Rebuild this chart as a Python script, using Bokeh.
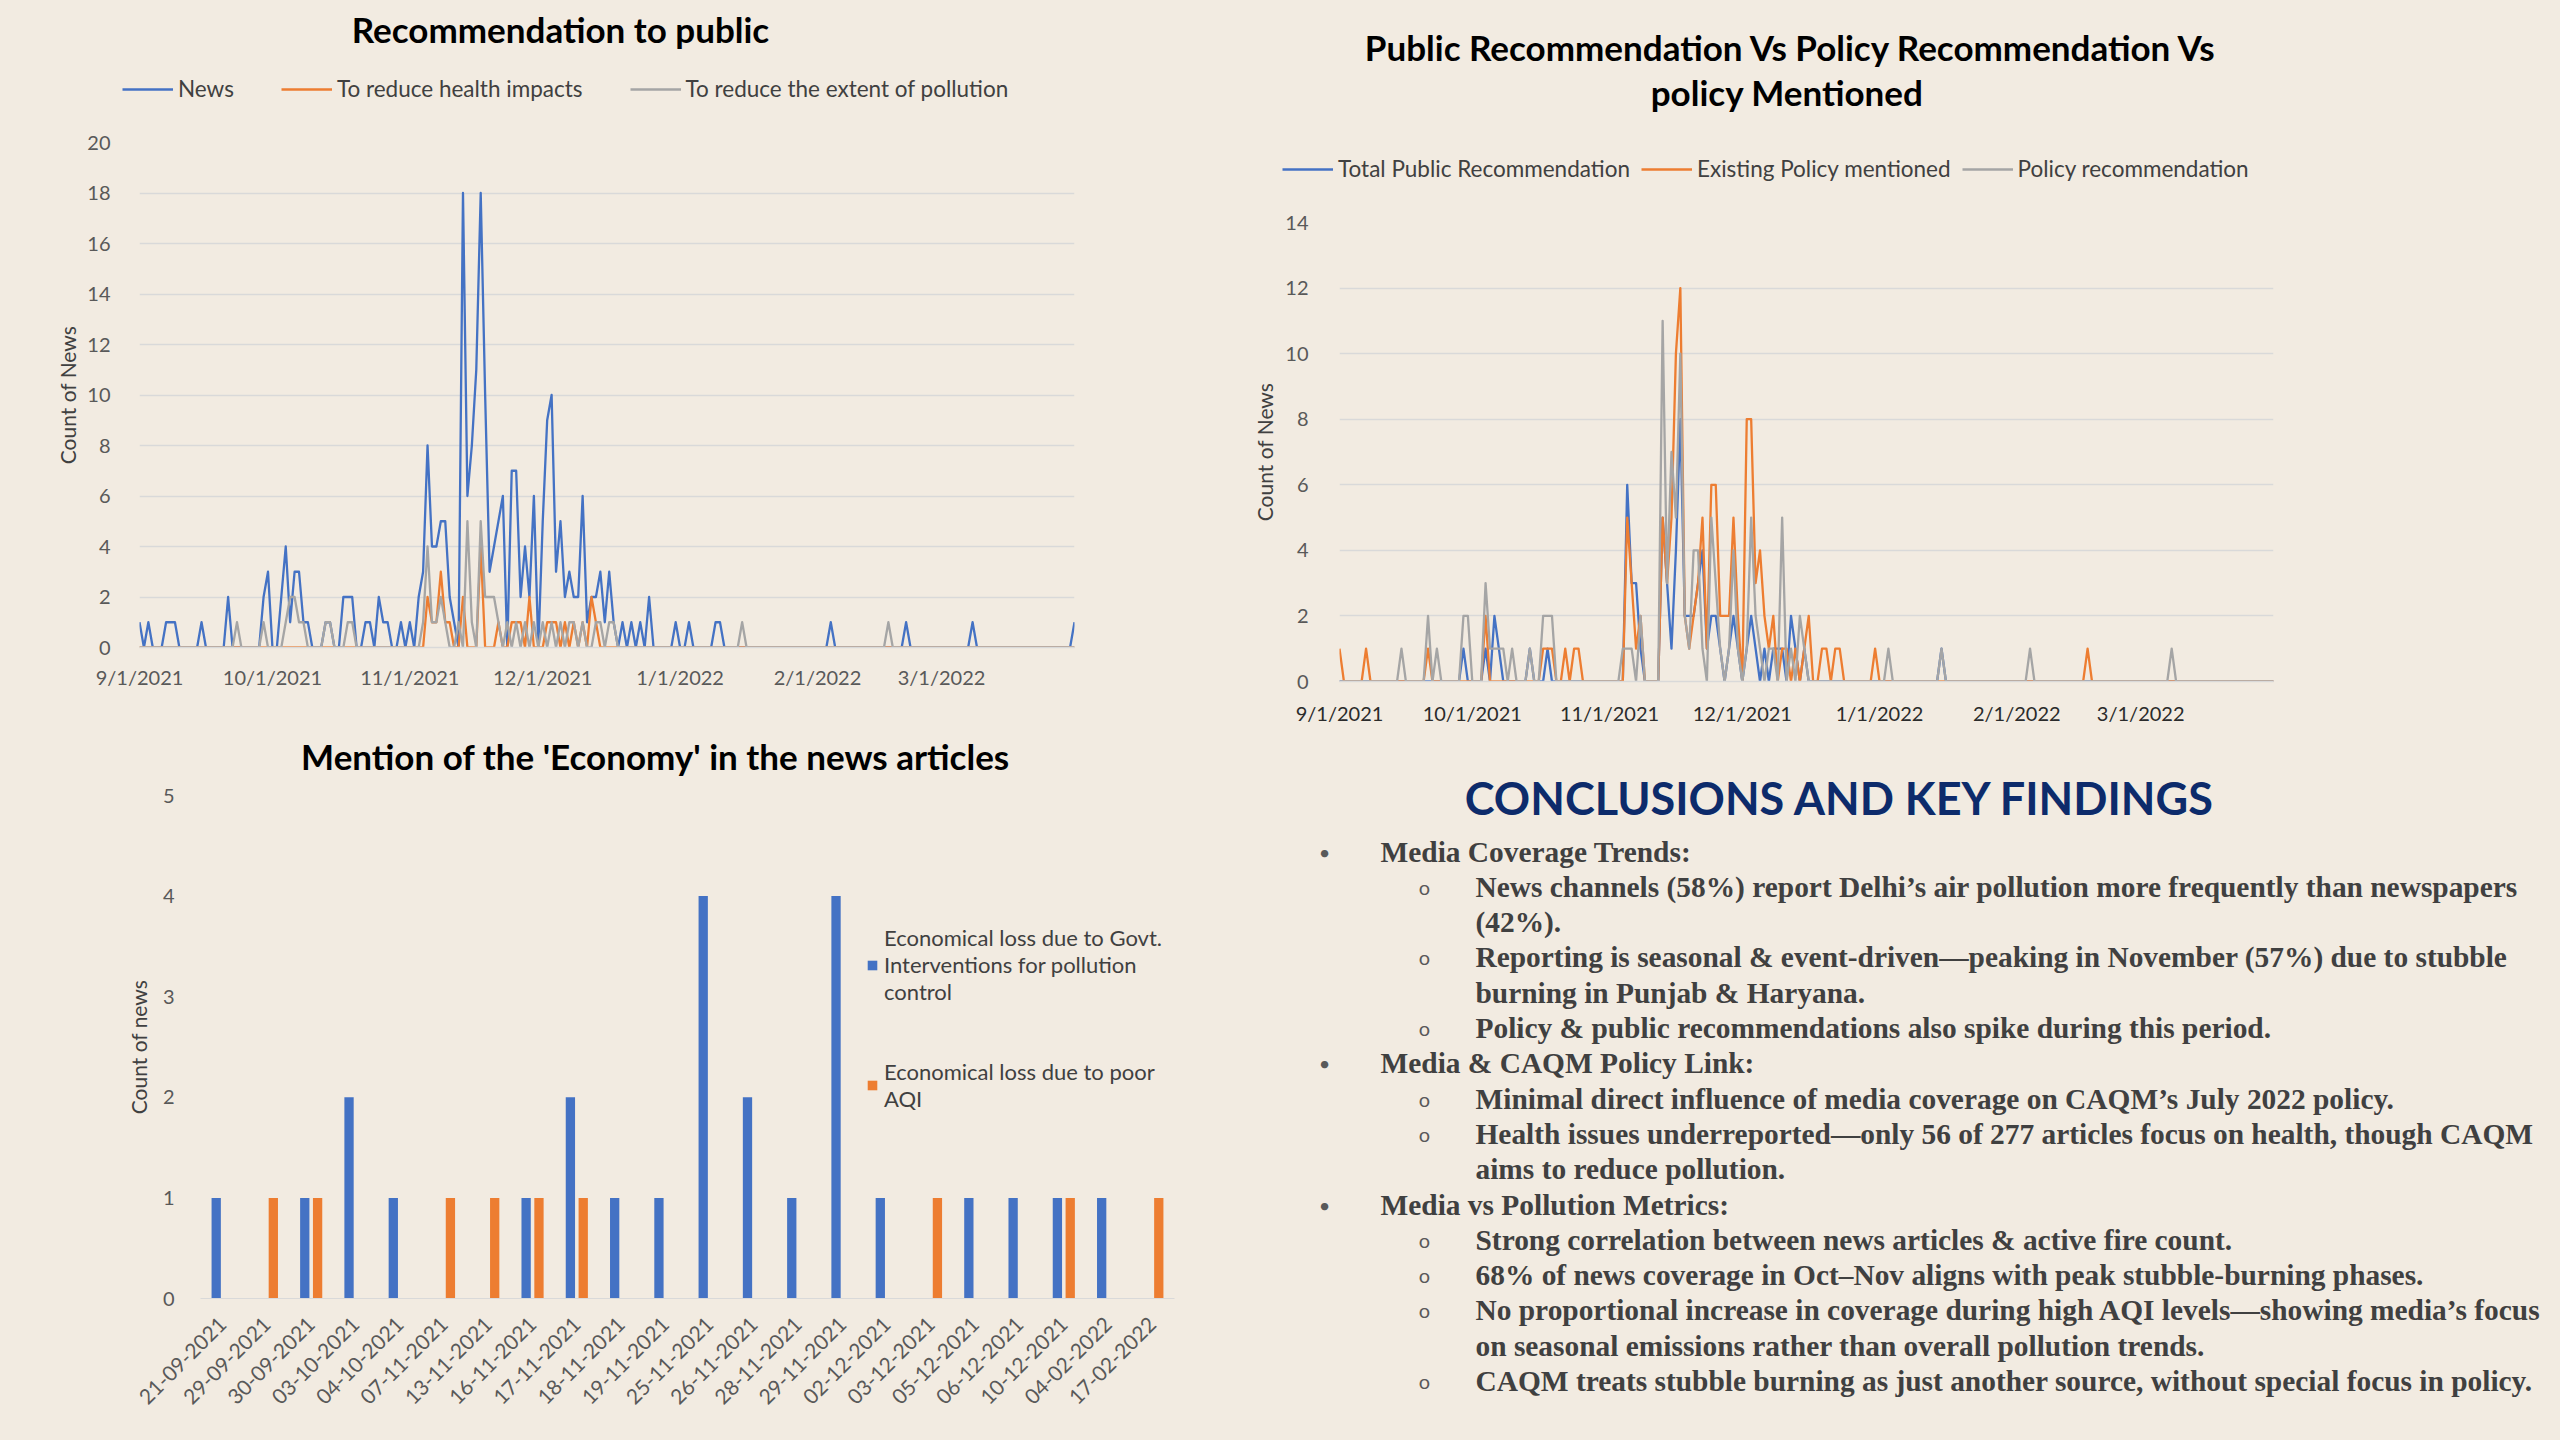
import pandas as pd
from math import pi
from bokeh.plotting import figure
from bokeh.layouts import row, column
from bokeh.models import Range1d, FactorRange, FixedTicker, Label, ColumnDataSource
from bokeh.transform import dodge
from bokeh.core.properties import value
from bokeh.embed import file_html
from bokeh.resources import INLINE

# ---------------- style ----------------
BG = "#F2EBE1"
BLUE, ORANGE, GRAY = "#4472C4", "#ED7D31", "#A5A5A5"
GRID, TICK, DARK = "#D9D9D9", "#595959", "#404040"
SANS, SERIF = "Lato", "Liberation Serif"
NAN = float("nan")

# ---------------- data ----------------
start_date, end_date = "2021-09-01", "2022-03-31"
date_tick_labels = ["9/1/2021", "10/1/2021", "11/1/2021", "12/1/2021",
                    "1/1/2022", "2/1/2022", "3/1/2022"]

# Chart 1: Recommendation to public (daily counts, Sep 2021 - Mar 2022)
tl_title = "Recommendation to public"
tl_labels = ["News", "To reduce health impacts", "To reduce the extent of pollution"]
news = ([1,0,1,0,0,0,1,1,1,0, 0,0,0,0,1,0,0,0,0,0, 2,0,0,0,0,0,0,0,2,3] +          # Sep
        [0,0,2,4,1,3,3,1,1,0, 0,0,1,1,0,0,2,2,2,0, 0,1,1,0,2,1,1,0,0,1, 0] +       # Oct
        [1,0,2,3,8,4,4,5,5,2, 1,0,18,6,8,11,18,10,3,4, 5,6,0,7,7,2,4,2,6,0] +      # Nov
        [5,9,10,3,5,2,3,2,2,6, 1,2,2,3,1,3,1,0,1,0, 1,0,1,0,2,0,0,0,0,0, 1] +      # Dec
        [0,0,1,0,0,0,0,0,1,1, 0,0,0,0,0,0,0,0,0,0, 0,0,0,0,0,0,0,0,0,0, 0] +       # Jan
        [0,0,0,1,0,0,0,0,0,0, 0,0,0,0,0,0,0,0,0,0, 1,0,0,0,0,0,0,0] +              # Feb
        [0,0,0,0,0,0,0,1,0,0, 0,0,0,0,0,0,0,0,0,0, 0,0,0,0,0,0,0,0,0,0, 1])        # Mar
health = ([0,0,0,0,0,0,0,0,0,0, 0,0,0,0,0,0,0,0,0,0, 0,0,0,0,0,0,0,0,0,0] +
          [0,0,0,0,0,0,0,0,0,0, 0,0,0,0,0,0,0,0,0,0, 0,0,0,0,0,0,0,0,0,0, 0] +
          [0,0,0,0,2,1,1,3,1,1, 0,0,2,0,0,0,4,0,0,0, 1,0,0,1,1,1,0,2,0,0] +
          [0,1,1,1,0,1,0,1,0,1, 0,2,1,0,0,0,0,0,0,0, 0,0,0,0,0,0,0,0,0,0, 0] +
          [0,0,0,0,0,0,0,0,0,0, 0,0,0,0,0,0,0,0,0,0, 0,0,0,0,0,0,0,0,0,0, 0] +
          [0,0,0,0,0,0,0,0,0,0, 0,0,0,0,0,0,0,0,0,0, 0,0,0,0,0,0,0,0] +
          [0,0,0,0,0,0,0,0,0,0, 0,0,0,0,0,0,0,0,0,0, 0,0,0,0,0,0,0,0,0,0, 0])
extent = ([0,0,0,0,0,0,0,0,0,0, 0,0,0,0,0,0,0,0,0,0, 0,0,1,0,0,0,0,0,1,0] +
          [0,0,0,1,2,2,1,1,0,0, 0,0,1,1,0,0,0,1,1,0, 0,0,0,0,0,0,0,0,0,0, 0] +
          [0,0,0,1,4,1,1,2,1,0, 0,1,0,5,1,0,5,2,2,2, 1,0,1,0,1,0,1,0,1,0] +
          [1,0,1,0,1,0,1,1,0,1, 0,0,1,1,0,1,1,0,0,0, 0,0,0,0,0,0,0,0,0,0, 0] +
          [0,0,0,0,0,0,0,0,0,0, 0,0,0,0,1,0,0,0,0,0, 0,0,0,0,0,0,0,0,0,0, 0] +
          [0,0,0,0,0,0,0,0,0,0, 0,0,0,0,0,0,1,0,0,0, 0,0,0,0,0,0,0,0] +
          [0,0,0,0,0,0,0,0,0,0, 0,0,0,0,0,0,0,0,0,0, 0,0,0,0,0,0,0,0,0,0, 0])

# Chart 2: Public vs policy recommendation vs policy mentioned
tr_title = ["Public Recommendation Vs Policy Recommendation Vs", "policy  Mentioned"]
tr_labels = ["Total Public Recommendation", "Existing Policy mentioned", "Policy recommendation"]
public_total = ([0,0,0,0,0,0,0,0,0,0, 0,0,0,0,0,0,0,0,0,0, 0,0,0,0,0,0,0,0,1,0] +
                [0,0,0,1,0,2,1,0,0,0, 0,0,0,1,0,0,0,1,0,0, 0,0,0,0,0,0,0,0,0,0, 0] +
                [0,0,0,0,6,3,3,1,0,0, 0,0,5,3,1,4,8,2,2,2, 3,4,1,2,2,1,0,1,2,1] +
                [0,1,2,1,0,1,0,1,1,1, 0,2,1,0,1,0,0,0,0,0, 0,0,0,0,0,0,0,0,0,0, 0] +
                [0,0,0,0,0,0,0,0,0,0, 0,0,0,0,1,0,0,0,0,0, 0,0,0,0,0,0,0,0,0,0, 0] +
                [0,0,0,0,0,0,0,0,0,0, 0,0,0,0,0,0,0,0,0,0, 0,0,0,0,0,0,0,0] +
                [0,0,0,0,0,0,0,0,0,0, 0,0,0,0,0,0,0,0,0,0, 0,0,0,0,0,0,0,0,0,0, 0])
policy_existing = ([1,0,0,0,0,0,1,0,0,0, 0,0,0,0,0,0,0,0,0,0, 1,0,0,0,0,0,0,0,0,0] +
                   [0,0,0,2,0,0,0,0,0,0, 0,0,0,0,0,0,1,1,1,0, 0,1,0,1,1,0,0,0,0,0, 0] +
                   [0,0,0,0,5,3,1,2,0,0, 0,0,5,3,5,10,12,2,1,2, 3,5,1,6,6,2,2,2,5,2] +
                   [0,8,8,3,4,2,1,2,0,1, 1,0,1,0,1,2,0,0,1,1, 0,1,1,0,0,0,0,0,0,0, 1] +
                   [0,0,0,0,0,0,0,0,0,0, 0,0,0,0,0,0,0,0,0,0, 0,0,0,0,0,0,0,0,0,0, 0] +
                   [0,0,0,0,0,0,0,0,0,0, 0,0,0,0,0,0,1,0,0,0, 0,0,0,0,0,0,0,0] +
                   [0,0,0,0,0,0,0,0,0,0, 0,0,0,0,0,0,0,0,0,0, 0,0,0,0,0,0,0,0,0,0, 0])
policy_reco = ([0,0,0,0,0,0,0,0,0,0, 0,0,0,0,1,0,0,0,0,0, 2,0,1,0,0,0,0,0,2,2] +
               [0,0,0,3,1,1,1,1,0,1, 0,0,0,1,0,0,2,2,2,0, 0,0,0,0,0,0,0,0,0,0, 0] +
               [0,0,0,1,1,1,0,2,0,0, 0,0,11,3,7,5,10,2,1,4, 4,1,0,5,3,1,0,1,4,1] +
               [0,1,5,2,1,0,1,1,0,5, 0,1,0,2,1,0,0,0,0,0, 0,0,0,0,0,0,0,0,0,0, 0] +
               [0,0,1,0,0,0,0,0,0,0, 0,0,0,0,1,0,0,0,0,0, 0,0,0,0,0,0,0,0,0,0, 0] +
               [0,0,0,1,0,0,0,0,0,0, 0,0,0,0,0,0,0,0,0,0, 0,0,0,0,0,0,0,0] +
               [0,0,0,0,0,0,0,1,0,0, 0,0,0,0,0,0,0,0,0,0, 0,0,0,0,0,0,0,0,0,0, 0])

# Chart 3: Mention of the 'Economy'
bl_title = "Mention of the 'Economy' in the news articles"
econ_dates = ["21-09-2021", "29-09-2021", "30-09-2021", "03-10-2021", "04-10-2021",
              "07-11-2021", "13-11-2021", "16-11-2021", "17-11-2021", "18-11-2021",
              "19-11-2021", "25-11-2021", "26-11-2021", "28-11-2021", "29-11-2021",
              "02-12-2021", "03-12-2021", "05-12-2021", "06-12-2021", "10-12-2021",
              "04-02-2022", "17-02-2022"]
econ_govt = [1, 0, 1, 2, 1, 0, 0, 1, 2, 1, 1, 4, 2, 1, 4, 1, 0, 1, 1, 1, 1, 0]
econ_aqi = [0, 1, 1, 0, 0, 1, 1, 1, 1, 0, 0, 0, 0, 0, 0, 0, 1, 0, 0, 1, 0, 1]
econ_labels = ["Economical loss due to Govt.\nInterventions for pollution\ncontrol",
               "Economical loss due to poor\nAQI"]

# Text panel
heading = "CONCLUSIONS AND KEY FINDINGS"
findings = [
    (1, "Media Coverage Trends:"),
    (2, "News channels (58%) report Delhi\u2019s air pollution more frequently than newspapers"),
    (3, "(42%)."),
    (2, "Reporting is seasonal & event-driven\u2014peaking in November (57%) due to stubble"),
    (3, "burning in Punjab & Haryana."),
    (2, "Policy & public recommendations also spike during this period."),
    (1, "Media & CAQM Policy Link:"),
    (2, "Minimal direct influence of media coverage on CAQM\u2019s July 2022 policy."),
    (2, "Health issues underreported\u2014only 56 of 277 articles focus on health, though CAQM"),
    (3, "aims to reduce pollution."),
    (1, "Media vs Pollution Metrics:"),
    (2, "Strong correlation between news articles & active fire count."),
    (2, "68% of news coverage in Oct\u2013Nov aligns with peak stubble-burning phases."),
    (2, "No proportional increase in coverage during high AQI levels\u2014showing media\u2019s focus"),
    (3, "on seasonal emissions rather than overall pollution trends."),
    (2, "CAQM treats stubble burning as just another source, without special focus in policy."),
]

# ---------------- helpers ----------------
dates = pd.date_range(start_date, end_date, freq="D")
day = [(d - dates[0]).days for d in dates]
tick_days = [(pd.to_datetime(t, format="%m/%d/%Y") - dates[0]).days for t in date_tick_labels]


def no_align(p):
    try:
        p.frame_align = False
    except Exception:
        pass
    return p


def base_fig(w, h, left, right, top, bottom, **kw):
    p = figure(width=w, height=h, output_backend="svg", toolbar_location=None,
               min_border_left=left, min_border_right=right,
               min_border_top=top, min_border_bottom=bottom,
               background_fill_color=BG, border_fill_color=BG,
               outline_line_color=None, **kw)
    return no_align(p)


def header(w, h, titles, legend=None):
    """A strip with the chart title(s) and (optionally) a horizontal legend.
    titles: list of (text, x_from_left, y_from_top)"""
    p = figure(width=w, height=h, output_backend="svg", toolbar_location=None,
               x_range=Range1d(0, 1), y_range=Range1d(0, 1), min_border=0,
               background_fill_color=BG, border_fill_color=BG, outline_line_color=None)
    no_align(p)
    p.axis.visible = False
    p.grid.visible = False
    for text, fx, fy in titles:
        p.add_layout(Label(x=fx, y=h - fy, x_units="screen", y_units="screen", text=text,
                           text_align="center", text_baseline="middle", text_font=SANS,
                           text_font_style="bold", text_font_size="35px",
                           text_color="#000000"))
    if legend is not None:
        items, lx, ly_bottom, spacing = legend
        for col, lab in items:
            # legend key only: a line with no drawable point
            p.line(x=[NAN], y=[NAN], line_color=col, line_width=2.3, legend_label=lab)
        leg = p.legend[0]
        leg.orientation = "horizontal"
        leg.location = (lx, h - ly_bottom)
        leg.label_text_font = SANS
        leg.label_text_font_size = "22.5px"
        leg.label_text_color = DARK
        leg.glyph_width = 51
        leg.glyph_height = 20
        leg.label_height = 20
        leg.label_standoff = 5
        leg.spacing = spacing
        leg.padding = 0
        leg.margin = 0
        leg.border_line_color = None
        leg.background_fill_alpha = 0
    return p


def line_chart(w, h, left, right, top, bottom, ymax, series, ylab_standoff,
               tick_standoff, xlab_color, xlab_standoff):
    p = base_fig(w, h, left, right, top, bottom,
                 x_range=Range1d(0, len(day) - 1), y_range=Range1d(0, ymax))
    for vals, col in series:
        p.line(day, vals, line_color=col, line_width=2.3, line_join="round")
    p.xgrid.visible = False
    p.ygrid.grid_line_color = GRID
    p.ygrid.grid_line_width = 1.5
    p.yaxis.ticker = FixedTicker(ticks=list(range(0, ymax + 1, 2)))
    p.xaxis.ticker = FixedTicker(ticks=tick_days)
    p.xaxis.major_label_overrides = dict(zip(tick_days, date_tick_labels))
    for ax in (p.xaxis[0], p.yaxis[0]):
        ax.major_tick_line_color = None
        ax.minor_tick_line_color = None
        ax.major_label_text_font = SANS
        ax.major_label_text_font_size = "20px"
        ax.major_label_text_color = TICK
    p.xaxis.major_label_text_color = xlab_color
    p.yaxis.axis_line_color = None
    p.xaxis.axis_line_color = GRID
    p.xaxis.axis_line_width = 1.5
    p.xaxis.major_label_standoff = xlab_standoff
    p.yaxis.major_label_standoff = tick_standoff
    p.yaxis.axis_label = "Count of News"
    p.yaxis.axis_label_text_font = SANS
    p.yaxis.axis_label_text_font_style = "normal"
    p.yaxis.axis_label_text_font_size = "21px"
    p.yaxis.axis_label_text_color = DARK
    p.yaxis.axis_label_standoff = ylab_standoff
    return p


# page is 2560 x 1440; left column 1230 wide, right column 1330 wide
LW, RW = 1230, 1330

# ---------------- chart 1 (top left) ----------------
tl_head = header(LW, 118, [(tl_title, 560, 28)],
                 legend=(list(zip([BLUE, ORANGE, GRAY], tl_labels)), 122, 102, 47))
tl = line_chart(LW, 603, 139, LW - 1074, 24, 74, 20,
                [(news, BLUE), (health, ORANGE), (extent, GRAY)],
                ylab_standoff=4, tick_standoff=23, xlab_color=TICK, xlab_standoff=11)

# ---------------- chart 2 (top right) ----------------
tr_head = header(RW, 200, [(tr_title[0], 1791 - LW, 46), (tr_title[1], 1791 - LW, 91)],
                 legend=(list(zip([BLUE, ORANGE, GRAY], tr_labels)), 1282 - LW, 182, 11))
tr = line_chart(RW, 543, 1339 - LW, RW - (2273 - LW), 22, 62, 14,
                [(public_total, BLUE), (policy_existing, ORANGE), (policy_reco, GRAY)],
                ylab_standoff=5, tick_standoff=25, xlab_color="#2b2b2b", xlab_standoff=13)

# ---------------- chart 3 (bottom left) ----------------
BLH_TOP, BLH_H = 721, 58
bl_head = header(LW, BLH_H, [(bl_title, 655, 755 - BLH_TOP)])
BL_TOP = BLH_TOP + BLH_H
BL_H, BL_L, BL_B = 1440 - BL_TOP, 200, 142
bl = base_fig(LW, BL_H, BL_L, LW - 1174, 795 - BL_TOP, BL_B,
              x_range=FactorRange(*econ_dates), y_range=Range1d(0, 5))
src = ColumnDataSource(dict(date=econ_dates, govt=econ_govt, aqi=econ_aqi))
bl.vbar(x=dodge("date", -0.145, range=bl.x_range), top="govt", width=0.21,
        source=src, fill_color=BLUE, line_color=None, legend_label=econ_labels[0])
bl.vbar(x=dodge("date", 0.145, range=bl.x_range), top="aqi", width=0.21,
        source=src, fill_color=ORANGE, line_color=None, legend_label=econ_labels[1])
bl.grid.visible = False
bl.yaxis.ticker = FixedTicker(ticks=[0, 1, 2, 3, 4, 5])
for ax in (bl.xaxis[0], bl.yaxis[0]):
    ax.major_tick_line_color = None
    ax.minor_tick_line_color = None
    ax.major_label_text_font = SANS
    ax.major_label_text_font_size = "20px"
    ax.major_label_text_color = TICK
bl.xaxis.major_label_text_font_size = "21px"
bl.yaxis.axis_line_color = None
bl.xaxis.axis_line_color = GRID
bl.xaxis.major_label_orientation = pi / 4
bl.xaxis.major_label_standoff = 16
bl.yaxis.major_label_standoff = 20
bl.yaxis.axis_label = "Count of news"
bl.yaxis.axis_label_text_font = SANS
bl.yaxis.axis_label_text_font_style = "normal"
bl.yaxis.axis_label_text_font_size = "21px"
bl.yaxis.axis_label_text_color = DARK
bl.yaxis.axis_label_standoff = 9
bleg = bl.legend[0]
bleg.label_text_font = SANS
bleg.label_text_font_size = "22px"
bleg.label_text_color = DARK
bleg.label_text_line_height = 1.6
bleg.glyph_width = 12
bleg.glyph_height = 12
bleg.label_standoff = 6
bleg.spacing = 53
bleg.padding = 0
bleg.margin = 0
bleg.border_line_color = None
bleg.background_fill_alpha = 0
# legend top-left wanted at screen px (866, 920); Bokeh tuple = bottom-left corner
LEG_H_EST = 192
bleg.location = (866 - BL_L, (BL_H - BL_B) - (920 - BL_TOP) - LEG_H_EST)

# ---------------- text panel (bottom right) ----------------
BR_H = 697
br = figure(width=RW, height=BR_H, output_backend="svg", toolbar_location=None,
            x_range=Range1d(0, RW), y_range=Range1d(BR_H, 0),
            min_border=0, background_fill_color=BG, border_fill_color=BG,
            outline_line_color=None)
no_align(br)
br.axis.visible = False
br.grid.visible = False
br.text(x=[1840 - LW], y=[54], text=[heading], text_align="center", text_baseline="middle",
        text_font=value(SANS), text_font_style="bold", text_font_size="45px",
        text_color="#0D2B6B")
indent = {1: 1380 - LW, 2: 1475 - LW, 3: 1475 - LW}
marker_x = {1: 1324 - LW, 2: 1424 - LW}
marker_txt = {1: "\u2022", 2: "o"}
line0, step = 108, 35.3
tx, ty, tt = [], [], []
mx, my, mt = [], [], []
for i, (lvl, txt) in enumerate(findings):
    y = line0 + i * step
    tx.append(indent[lvl]); ty.append(y); tt.append(txt)
    if lvl in marker_x:
        mx.append(marker_x[lvl]); my.append(y); mt.append(marker_txt[lvl])
br.text(x=tx, y=ty, text=tt, text_align="left", text_baseline="middle",
        text_font=value(SERIF), text_font_style="bold", text_font_size="29.4px",
        text_color=DARK)
br.text(x=mx, y=my, text=mt, text_align="center", text_baseline="middle",
        text_font=value(SANS), text_font_size="20px", text_color=TICK)

bgstyle = {"background-color": BG}
layout = row(column(tl_head, tl, bl_head, bl, styles=bgstyle),
             column(tr_head, tr, br, styles=bgstyle), styles=bgstyle)
open("out.html", "w").write(file_html(layout, INLINE))
